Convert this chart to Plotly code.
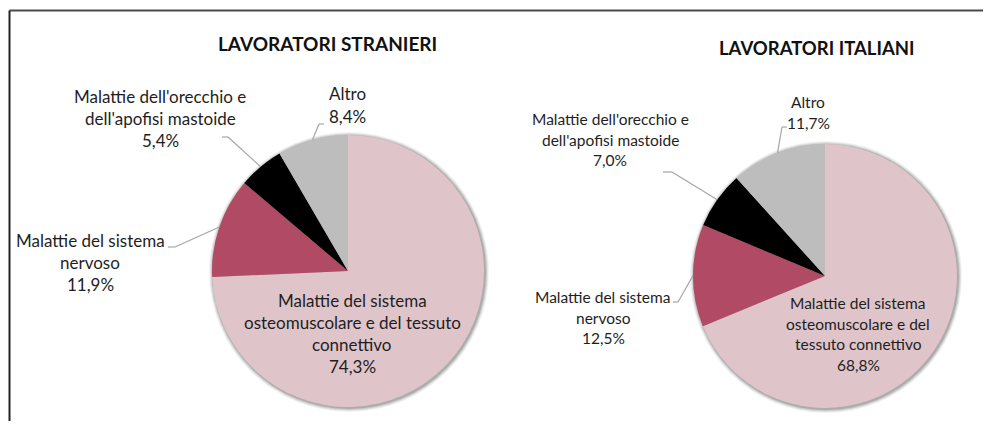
import math
import plotly.graph_objects as go

# ---------------- DATA ----------------
categories = [
    "Malattie del sistema osteomuscolare e del tessuto connettivo",
    "Malattie del sistema nervoso",
    "Malattie dell'orecchio e dell'apofisi mastoide",
    "Altro",
]
stranieri = [74.3, 11.9, 5.4, 8.4]
italiani = [68.8, 12.5, 7.0, 11.7]
titles = ["LAVORATORI STRANIERI", "LAVORATORI ITALIANI"]

wrap_stranieri = [
    ["Malattie del sistema", "osteomuscolare e del tessuto", "connettivo"],
    ["Malattie del sistema", "nervoso"],
    ["Malattie dell'orecchio e", "dell'apofisi mastoide"],
    ["Altro"],
]
wrap_italiani = [
    ["Malattie del sistema", "osteomuscolare e del", "tessuto connettivo"],
    ["Malattie del sistema", "nervoso"],
    ["Malattie dell'orecchio e", "dell'apofisi mastoide"],
    ["Altro"],
]

colors = ["#DFC5CA", "#B14A65", "#000000", "#BDBDBD"]

# ---------------- LAYOUT / STYLE ----------------
VW, VH = 991, 431          # browser viewport
OFF = 8                    # default body margin of the page
W, H = VW - 2 * OFF, VH - 2 * OFF - 2  # figure size (no scrollbars)
FONT = "Lato"
TXT = "#1e1e1e"
LEADER = "#A6A6A6"


def px(x):
    return (x - OFF) / W


def py(y):
    return 1 - (y - OFF) / H


charts = [
    dict(
        values=stranieri, wrap=wrap_stranieri, title=titles[0],
        cx=348, cy=271, r=136, title_pos=(327, 43), title_size=19,
        font_size=17, spacing=22,
        label_pos=[(352, 300), (90, 240), (160, 96), (347, 94)],
        leader=[None, ((175, 247), (168, 247)), ((228, 137), (222, 137)),
                ((319, 124), (324, 124))],
    ),
    dict(
        values=italiani, wrap=wrap_italiani, title=titles[1],
        cx=825, cy=276, r=132, title_pos=(817, 48), title_size=18.5,
        font_size=15.5, spacing=20.5,
        label_pos=[(858, 303), (603, 297), (610, 119), (808, 102)],
        leader=[None, ((678, 302), (673, 302)), ((672, 172), (663, 172)),
                ((782, 127), (787, 127))],
    ),
]

fig = go.Figure()
shapes = []
annotations = []

for ch in charts:
    cx, cy, r = ch["cx"], ch["cy"], ch["r"]
    fig.add_trace(go.Pie(
        labels=categories,
        values=ch["values"],
        sort=False,
        direction="clockwise",
        rotation=0,
        textinfo="none",
        hoverinfo="label+percent",
        marker=dict(colors=colors, line=dict(width=0)),
        domain=dict(x=[px(cx - r), px(cx + r)], y=[py(cy + r), py(cy - r)]),
        showlegend=False,
    ))
    # soft shadow
    for k, op in [(4, 0.05), (3, 0.07), (2, 0.10), (1, 0.14)]:
        shapes.append(dict(
            type="circle", xref="paper", yref="paper", layer="below",
            x0=px(cx - r - k + 1), x1=px(cx + r + k + 1),
            y0=py(cy + r + k + 1), y1=py(cy - r - k + 1),
            fillcolor=f"rgba(0,0,0,{op})", line=dict(width=0),
        ))

    # title
    annotations.append(dict(
        x=px(ch["title_pos"][0]), y=py(ch["title_pos"][1]),
        xref="paper", yref="paper", xanchor="center", yanchor="middle",
        text=f"<b>{ch['title']}</b>", showarrow=False,
        font=dict(family=FONT, size=ch["title_size"], color="#111111"),
    ))

    total = sum(ch["values"])
    cum = 0.0
    for i, v in enumerate(ch["values"]):
        mid = (cum + v / 2) / total
        cum += v
        lines = ch["wrap"][i] + [f"{v:.1f}%".replace(".", ",")]
        lx, ly = ch["label_pos"][i]
        for j, line in enumerate(lines):
            annotations.append(dict(
                x=px(lx), y=py(ly + j * ch["spacing"]),
                xref="paper", yref="paper", xanchor="center", yanchor="middle",
                text=line, showarrow=False,
                font=dict(family=FONT, size=ch["font_size"], color=TXT),
            ))
        ld = ch["leader"][i]
        if ld is not None:
            ang = 2 * math.pi * mid
            # clockwise from 12 o'clock
            ex = cx + r * math.sin(ang)
            ey = cy - r * math.cos(ang)
            (bx, by), (tx, ty) = ld
            for (x0, y0, x1, y1) in [(ex, ey, bx, by), (bx, by, tx, ty)]:
                shapes.append(dict(
                    type="line", xref="paper", yref="paper",
                    x0=px(x0), y0=py(y0), x1=px(x1), y1=py(y1),
                    line=dict(color=LEADER, width=1.2),
                ))

# frame border (kept inside the figure)
shapes.append(dict(type="line", xref="paper", yref="paper",
                   x0=px(9.5), y0=py(10.5), x1=1.0, y1=py(10.5),
                   line=dict(color="#4a4a4a", width=2)))
shapes.append(dict(type="line", xref="paper", yref="paper",
                   x0=px(9.5), y0=py(10.5), x1=px(9.5), y1=0.0,
                   line=dict(color="#222222", width=2)))

fig.update_layout(
    width=W, height=H,
    margin=dict(l=0, r=0, t=0, b=0),
    paper_bgcolor="white", plot_bgcolor="white",
    shapes=shapes, annotations=annotations,
    font=dict(family=FONT),
)

fig.write_html("out.html")
